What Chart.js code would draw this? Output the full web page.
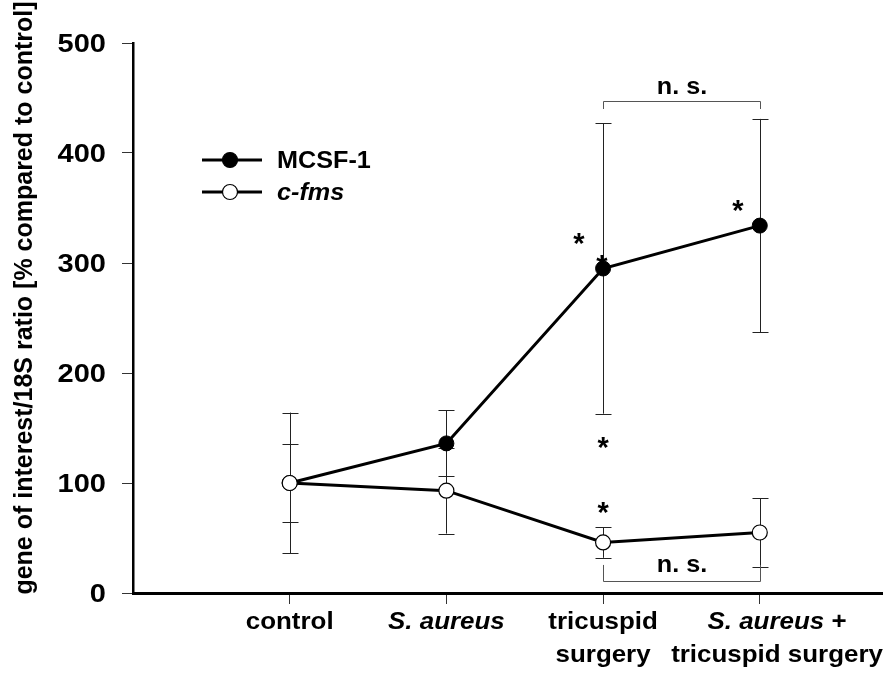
<!DOCTYPE html>
<html lang="en">
<head>
  <meta charset="UTF-8">
  <title>MCSF-1 and c-fms expression</title>
  <style>
    html, body { margin: 0; padding: 0; background: #fff; }
    #wrap { width: 896px; height: 673px; }
  </style>
</head>
<body>
  <div id="wrap">
    <canvas id="myChart"></canvas>
  </div>

  <script src="https://cdn.jsdelivr.net/npm/chart.js"></script>

  <script>
    // groups
    const categories = ['control', 'S. aureus', 'tricuspid surgery', 'S. aureus + tricuspid surgery'];
    const tickLines = [['control'], ['S. aureus'], ['tricuspid', 'surgery'], ['S. aureus +', 'tricuspid surgery']];
    const categoryPos = [1, 2, 3, 4];

    // % compared to control, mean and error
    const mcsfValues = [100, 136, 295, 334];
    const mcsfErrors = [64, 30, 132, 97];
    const cfmsValues = [100, 93, 46, 55];
    const cfmsErrors = [35.5, 39, 14, 31];

    const yTicks = [0, 100, 200, 300, 400, 500];

    const FONT = '"Liberation Sans", Arial, Helvetica, sans-serif';
    const ctx = document.getElementById('myChart').getContext('2d');

    const toPoints = (vals) => vals.map((v, i) => ({ x: categoryPos[i], y: v }));

    // draw a line of text made of [text, font] parts, widened horizontally by sx
    function wideText(c, parts, x, y, align, sx) {
      let w = 0;
      parts.forEach(([t, f]) => { c.font = f; w += c.measureText(t).width; });
      let start = align === 'right' ? -w : (align === 'left' ? 0 : -w / 2);
      c.save();
      c.translate(x, y);
      c.scale(sx || 1, 1);
      c.textAlign = 'left';
      parts.forEach(([t, f]) => {
        c.font = f;
        c.fillText(t, start, 0);
        start += c.measureText(t).width;
      });
      c.restore();
    }

    // error bars behind the markers
    const errorBars = {
      id: 'errorBars',
      beforeDatasetsDraw(chart) {
        const c = chart.ctx;
        const y = chart.scales.y;
        c.save();
        c.strokeStyle = '#222';
        c.lineWidth = 1;
        chart.data.datasets.forEach((ds, di) => {
          const meta = chart.getDatasetMeta(di);
          meta.data.forEach((pt, i) => {
            const v = ds.data[i].y, e = ds.errors[i];
            const x = Math.round(pt.x) + 0.5;
            const top = y.getPixelForValue(v + e);
            const bot = y.getPixelForValue(v - e);
            c.beginPath();
            c.moveTo(x, top); c.lineTo(x, bot);
            c.moveTo(x - 8, Math.round(top) + 0.5); c.lineTo(x + 8, Math.round(top) + 0.5);
            c.moveTo(x - 8, Math.round(bot) + 0.5); c.lineTo(x + 8, Math.round(bot) + 0.5);
            c.stroke();
          });
        });
        c.restore();
      }
    };

    // tick labels, y title, legend, brackets, asterisks
    const extras = {
      id: 'extras',
      afterDraw(chart) {
        const c = chart.ctx;
        const xs = chart.scales.x, ys = chart.scales.y;
        const area = chart.chartArea;
        const normal = 'bold 24px ' + FONT;
        const italic = 'italic bold 24px ' + FONT;
        c.save();
        c.fillStyle = '#000';
        c.textBaseline = 'alphabetic';

        // y tick labels
        ys.ticks.forEach(t => {
          wideText(c, [[String(t.value), 'bold 25px ' + FONT]], area.left - 27, ys.getPixelForValue(t.value) + 9, 'right', 1.16);
        });

        // x tick labels (the last one sits a little right of its tick in the original)
        const labelShift = [0, 0, 0, 0.11];
        tickLines.forEach((lines, i) => {
          const cx = xs.getPixelForValue(categoryPos[i] + labelShift[i]);
          lines.forEach((line, li) => {
            const parts = line.split(/(S\. aureus)/).filter(p => p.length)
              .map(p => [p, p === 'S. aureus' ? italic : normal]);
            wideText(c, parts, cx, area.bottom + 36 + li * 33, 'center', 1.08);
          });
        });

        // y axis title
        c.save();
        c.translate(32, 298);
        c.rotate(-Math.PI / 2);
        c.font = 'bold 25px ' + FONT;
        c.textAlign = 'center';
        c.fillText('gene of interest/18S ratio [% compared to control]', 0, 0);
        c.restore();

        // legend
        c.textBaseline = 'middle';
        const lx = area.left + 69, ly = area.top + 117;
        [['MCSF-1', '#000', normal], ['c-fms', '#fff', italic]].forEach((item, k) => {
          const yy = ly + k * 32;
          c.strokeStyle = '#000';
          c.lineWidth = 3;
          c.beginPath(); c.moveTo(lx, yy); c.lineTo(lx + 60, yy); c.stroke();
          c.beginPath(); c.arc(lx + 28, yy, 7.5, 0, Math.PI * 2);
          c.fillStyle = item[1]; c.fill();
          c.lineWidth = 1.2; c.stroke();
          c.fillStyle = '#000';
          wideText(c, [[item[0], item[2]]], lx + 75, yy + 1, 'left', 1.05);
        });

        // n. s. brackets
        c.strokeStyle = '#555';
        c.lineWidth = 1;
        const x3 = Math.round(xs.getPixelForValue(3)) + 0.5;
        const x4 = Math.round(xs.getPixelForValue(4)) + 0.5;
        const bracket = (yLine, yEnd, yText) => {
          const a = Math.round(ys.getPixelForValue(yLine)) + 0.5;
          const b = ys.getPixelForValue(yEnd);
          c.beginPath();
          c.moveTo(x3, b); c.lineTo(x3, a); c.lineTo(x4, a); c.lineTo(x4, b);
          c.stroke();
          wideText(c, [['n. s.', normal]], (x3 + x4) / 2, ys.getPixelForValue(yText), 'center', 1.05);
        };
        bracket(447, 440, 460);
        bracket(11, 25.5, 25.5);

        // significance asterisks (glyph centre at given value)
        c.textBaseline = 'alphabetic';
        c.textAlign = 'center';
        c.font = 'bold 29px ' + FONT;
        [[2.846, 325], [2.993, 304.5], [3.861, 354.5], [3.0, 139], [3.0, 80]].forEach(([xv, yv]) => {
          c.fillText('*', xs.getPixelForValue(xv), ys.getPixelForValue(yv) + 17);
        });
        c.restore();
      }
    };

    new Chart(ctx, {
      type: 'line',
      data: {
        datasets: [
          {
            label: 'c-fms',
            data: toPoints(cfmsValues),
            errors: cfmsErrors,
            order: 0,
            borderColor: '#000',
            borderWidth: 3,
            pointRadius: 7.5,
            pointBackgroundColor: '#fff',
            pointBorderColor: '#000',
            pointBorderWidth: 1.2,
            tension: 0,
            clip: false
          },
          {
            label: 'MCSF-1',
            data: toPoints(mcsfValues),
            errors: mcsfErrors,
            order: 1,
            borderColor: '#000',
            borderWidth: 3,
            pointRadius: 7.5,
            pointBackgroundColor: '#000',
            pointBorderColor: '#000',
            pointBorderWidth: 1,
            tension: 0,
            clip: false
          }
        ]
      },
      plugins: [errorBars, extras],
      options: {
        responsive: true,
        maintainAspectRatio: false,
        animation: false,
        layout: { padding: { left: 0, top: 43, right: 14, bottom: 0 } },
        plugins: {
          legend: { display: false },
          tooltip: { enabled: false }
        },
        scales: {
          x: {
            type: 'linear',
            min: 0,
            max: 4.78,
            afterBuildTicks: (scale) => { scale.ticks = categoryPos.map(v => ({ value: v })); },
            afterFit: (scale) => { scale.height = 80; },
            ticks: { display: false },
            grid: { drawOnChartArea: false, drawTicks: true, tickLength: 11, color: '#333', lineWidth: 1 },
            border: { display: true, color: '#000', width: 3 }
          },
          y: {
            min: 0,
            max: 500,
            afterBuildTicks: (scale) => { scale.ticks = yTicks.map(v => ({ value: v })); },
            afterFit: (scale) => { scale.width = 133; },
            ticks: { display: false },
            grid: { drawOnChartArea: false, drawTicks: true, tickLength: 11, color: '#333', lineWidth: 1 },
            border: { display: true, color: '#000', width: 2.5 }
          }
        }
      }
    });
  </script>
</body>
</html>
